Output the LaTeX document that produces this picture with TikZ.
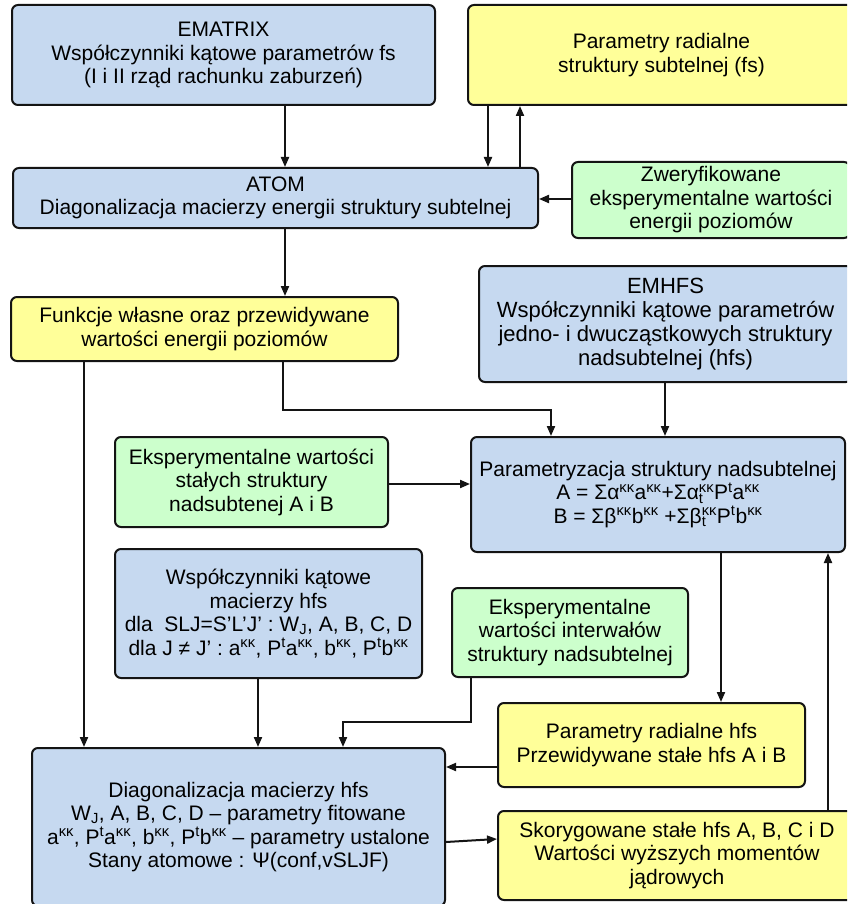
\documentclass[tikz,border=0pt]{standalone}
\usepackage{fontspec}
\setmainfont{Liberation Sans}
\usetikzlibrary{arrows.meta}
\definecolor{bblue}{RGB}{198,217,240}
\definecolor{byell}{RGB}{255,255,153}
\definecolor{bgreen}{RGB}{204,255,204}
\definecolor{edge}{RGB}{20,20,20}
\newcommand{\kk}{\textsuperscript{κκ}}
\newcommand{\tkk}{\makebox[0pt][l]{\textsubscript{t}}\textsuperscript{κκ}}
\begin{document}
\begin{tikzpicture}[x=1pt,y=-1pt,
  box/.style={draw=edge,line width=2pt,rounded corners=6pt,inner sep=0pt,align=center,
    font=\fontsize{21}{23.5}\selectfont},
  bluebox/.style={box,fill=bblue},
  yellbox/.style={box,fill=byell},
  greenbox/.style={box,fill=bgreen},
  arr/.style={draw=edge,line width=2pt,-{Triangle[length=10pt,width=8pt]}}]
\useasboundingbox (0,0) rectangle (847,904);
\clip (0,0) rectangle (847,904);
\fill[white] (0,0) rectangle (847,904);

\node[bluebox,minimum width=423,minimum height=100] (ematrix) at (223.5,55)
  {EMATRIX\\Współczynniki kątowe parametrów fs\\(I i II rząd rachunku zaburzeń)};
\node[yellbox,minimum width=387,minimum height=100] (pfs) at (661.5,55)
  {Parametry radialne\\struktury subtelnej (fs)};
\node[bluebox,minimum width=525,minimum height=60] (atom) at (275.5,198)
  {ATOM\\Diagonalizacja macierzy energii struktury subtelnej};
\node[greenbox,minimum width=278,minimum height=76] (zwer) at (711,200)
  {Zweryfikowane\\eksperymentalne wartości\\energii poziomów};
\node[yellbox,minimum width=387,minimum height=64] (funk) at (204.5,329)
  {Funkcje własne oraz przewidywane\\wartości energii poziomów};
\node[bluebox,minimum width=373,minimum height=116,font=\fontsize{22}{24}\selectfont] (emhfs) at (665.5,324)
  {EMHFS\\Współczynniki kątowe parametrów\\jedno- i dwucząstkowych struktury\\nadsubtelnej (hfs)};
\node[greenbox,minimum width=273,minimum height=90] (eksA) at (251.5,482)
  {Eksperymentalne wartości\\stałych struktury\\nadsubtenej A i B};
\node[bluebox,minimum width=374,minimum height=115] (param) at (658,494.5)
  {Parametryzacja struktury nadsubtelnej\\
   A = Σα\kk a\kk+Σα\tkk P\textsuperscript{t}a\kk\\
   B = Σβ\kk b\kk\ +Σβ\tkk P\textsuperscript{t}b\kk};
\node[bluebox,minimum width=307,minimum height=129] (wsp) at (268.5,613.5)
  {Współczynniki kątowe\\macierzy hfs\\
   dla\ \ SLJ=S’L’J’ : W\textsubscript{J}, A, B, C, D\\
   dla J ≠ J’ : a\kk, P\textsuperscript{t}a\kk, b\kk, P\textsuperscript{t}b\kk};
\node[greenbox,minimum width=236,minimum height=89] (eksI) at (570,632.5)
  {Eksperymentalne\\wartości interwałów\\struktury nadsubtelnej};
\node[yellbox,minimum width=307,minimum height=84] (prh) at (651.5,745)
  {Parametry radialne hfs\\Przewidywane stałe hfs A i B};
\node[bluebox,minimum width=413,minimum height=158] (diag) at (238.5,827)
  {Diagonalizacja macierzy hfs\\
   W\textsubscript{J}, A, B, C, D – parametry fitowane\\
   a\kk, P\textsuperscript{t}a\kk, b\kk, P\textsuperscript{t}b\kk\ – parametry ustalone\\
   Stany atomowe : Ψ(conf,vSLJF)};
\node[yellbox,minimum width=358,minimum height=89] (skor) at (677,855.5)
  {Skorygowane stałe hfs A, B, C i D\\Wartości wyższych momentów\\jądrowych};

\draw[arr] (ematrix.south -| 285,0) -- (atom.north -| 285,0);
\draw[arr] (pfs.south -| 488,0) -- (atom.north -| 488,0);
\draw[arr] (atom.north -| 520,0) -- (pfs.south -| 520,0);
\draw[arr] (zwer.west |- 0,199) -- (atom.east |- 0,199);
\draw[arr] (atom.south -| 285,0) -- (funk.north -| 285,0);
\draw[arr] (funk.south -| 84,0) -- (diag.north -| 84,0);
\draw[arr] (funk.south -| 283,0) -- (283,410) -- (551,410) -- (param.north -| 551,0);
\draw[arr] (emhfs.south -| 665,0) -- (param.north -| 665,0);
\draw[arr] (eksA.east |- 0,484) -- (param.west |- 0,484);
\draw[arr] (param.south -| 721,0) -- (prh.north -| 721,0);
\draw[arr] (skor.north -| 828,0) -- (param.south -| 828,0);
\draw[arr] (wsp.south -| 258,0) -- (diag.north -| 258,0);
\draw[arr] (eksI.south -| 471,0) -- (471,722) -- (343,722) -- (diag.north -| 343,0);
\draw[arr] (prh.west |- 0,767) -- (diag.east |- 0,767);
\draw[arr] (diag.east |- 0,842) -- (skor.west |- 0,839);
\end{tikzpicture}
\end{document}
